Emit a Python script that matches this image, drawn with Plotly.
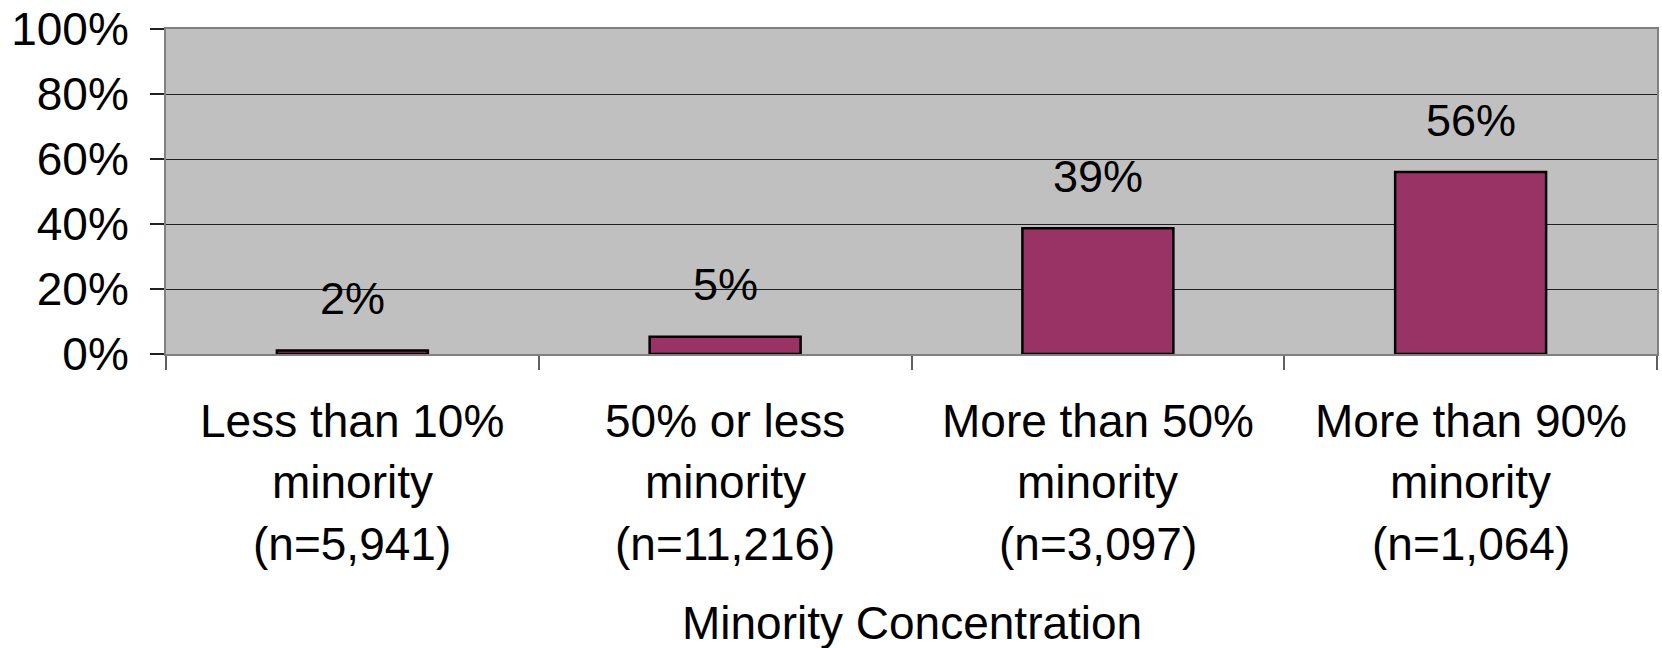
import plotly.graph_objects as go

categories = ["Less than 10%", "50% or less", "More than 50%", "More than 90%"]
label_line2 = ["minority", "minority", "minority", "minority"]
label_line3 = ["(n=5,941)", "(n=11,216)", "(n=3,097)", "(n=1,064)"]
values = [1.1, 5.3, 38.7, 56.0]
value_labels = ["2%", "5%", "39%", "56%"]
y_ticks = [0, 20, 40, 60, 80, 100]
y_tick_labels = ["0%", "20%", "40%", "60%", "80%", "100%"]
x_title = "Minority Concentration"

FONT = "Arial, Liberation Sans, sans-serif"

fig = go.Figure()
fig.add_trace(go.Bar(
    x=categories, y=values, width=0.405,
    marker=dict(color="#993366", line=dict(color="black", width=2.5)),
    hoverinfo="skip",
))

annotations = []
for c, v, lab in zip(categories, values, value_labels):
    annotations.append(dict(x=c, y=v, xref="x", yref="y", text=lab, showarrow=False,
                            yanchor="middle", yshift=52,
                            font=dict(family=FONT, size=45, color="black")))
for c, l1, l2, l3 in zip(categories, categories, label_line2, label_line3):
    for txt, shift in ((l1, -67), (l2, -128), (l3, -190)):
        annotations.append(dict(x=c, y=0, xref="x", yref="paper", text=txt, showarrow=False,
                                yanchor="middle", yshift=shift,
                                font=dict(family=FONT, size=46, color="black")))
annotations.append(dict(x=0.5, y=0, xref="paper", yref="paper", text=x_title, showarrow=False,
                        yanchor="middle", yshift=-269,
                        font=dict(family=FONT, size=46, color="black")))

fig.update_layout(
    width=1662, height=648,
    margin=dict(l=166, r=3, t=29, b=294),
    paper_bgcolor="white", plot_bgcolor="#C0C0C0",
    showlegend=False,
    font=dict(family=FONT, size=46, color="black"),
    annotations=annotations,
    bargap=0.595,
)
fig.update_xaxes(
    showticklabels=False, showgrid=False,
    showline=True, linecolor="#808080", linewidth=2, mirror=True,
    ticks="outside", tickson="boundaries", ticklen=14, tickcolor="#606060", tickwidth=1.5,
)
fig.update_yaxes(
    range=[0, 100], tickvals=y_ticks, ticktext=y_tick_labels,
    showgrid=True, gridcolor="#202020", gridwidth=1,
    zeroline=False,
    showline=True, linecolor="#808080", linewidth=2, mirror=True,
    ticks="outside", ticklen=14, tickcolor="#202020", tickwidth=1.5,
    ticklabelstandoff=12,
    tickfont=dict(family=FONT, size=46, color="black"),
)

fig.write_html("out.html")
